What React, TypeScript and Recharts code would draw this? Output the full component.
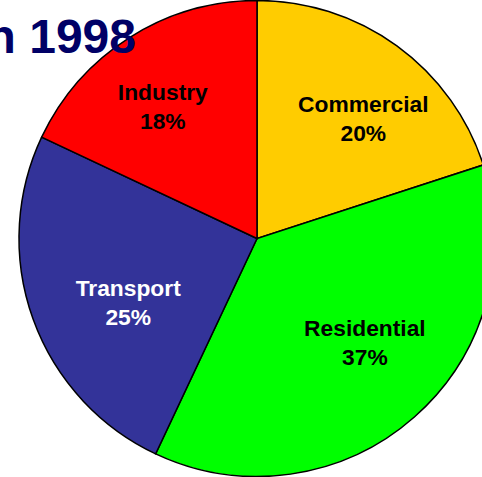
import React from 'react';
import { PieChart, Pie, Cell } from 'recharts';

const sectors = ['Commercial', 'Residential', 'Transport', 'Industry'];
const shares = [20, 37, 25, 18];
const sliceColors = ['#FFCC00', '#00FF00', '#333399', '#FF0000'];
const labelColors = ['#000000', '#000000', '#FFFFFF', '#000000'];

// small hand nudges so labels sit where the original put them
const labelNudge: Record<string, [number, number]> = {
  Commercial: [14, 6],
  Residential: [4, -15],
  Transport: [19, 10],
  Industry: [-10, 0],
};

const data = sectors.map((name, i) => ({ name, value: shares[i] }));

const RAD = Math.PI / 180;

const renderLabel = (props: any) => {
  const { cx, cy, midAngle, outerRadius, index, name, value } = props;
  const r = outerRadius * 0.66;
  const [nx, ny] = labelNudge[name] || [0, 0];
  const x = cx + Math.cos(-midAngle * RAD) * r + nx;
  const y = cy + Math.sin(-midAngle * RAD) * r + ny;
  const fill = labelColors[index];
  const style = { fontFamily: 'Liberation Sans, Arial, sans-serif', fontWeight: 700, fontSize: 22.8 };
  return (
    <g>
      <text x={x} y={y - 5.5} textAnchor="middle" fill={fill} style={style}>
        {name}
      </text>
      <text x={x} y={y + 23.5} textAnchor="middle" fill={fill} style={style}>
        {`${value}%`}
      </text>
    </g>
  );
};

export default function App() {
  return (
    <div style={{ position: 'absolute', left: 0, top: 0, width: 482, height: 477, overflow: 'hidden', background: '#fff' }}>
      <PieChart width={482} height={477} margin={{ top: 0, right: 0, bottom: 0, left: 0 }}>
        <Pie
          data={data}
          dataKey="value"
          nameKey="name"
          cx={257}
          cy={238.5}
          outerRadius={238}
          startAngle={90}
          endAngle={-270}
          stroke="#000000"
          strokeWidth={1.5}
          labelLine={false}
          label={renderLabel}
          isAnimationActive={false}
        >
          {data.map((d, i) => (
            <Cell key={d.name} fill={sliceColors[i]} />
          ))}
        </Pie>
      </PieChart>
      <svg width={482} height={477} style={{ position: 'absolute', left: 0, top: 0, pointerEvents: 'none' }}>
        <text
          x={136}
          y={53}
          textAnchor="end"
          fill="#000066"
          style={{ fontFamily: 'Liberation Sans, Arial, sans-serif', fontWeight: 700, fontSize: 48 }}
        >
          in 1998
        </text>
      </svg>
    </div>
  );
}
